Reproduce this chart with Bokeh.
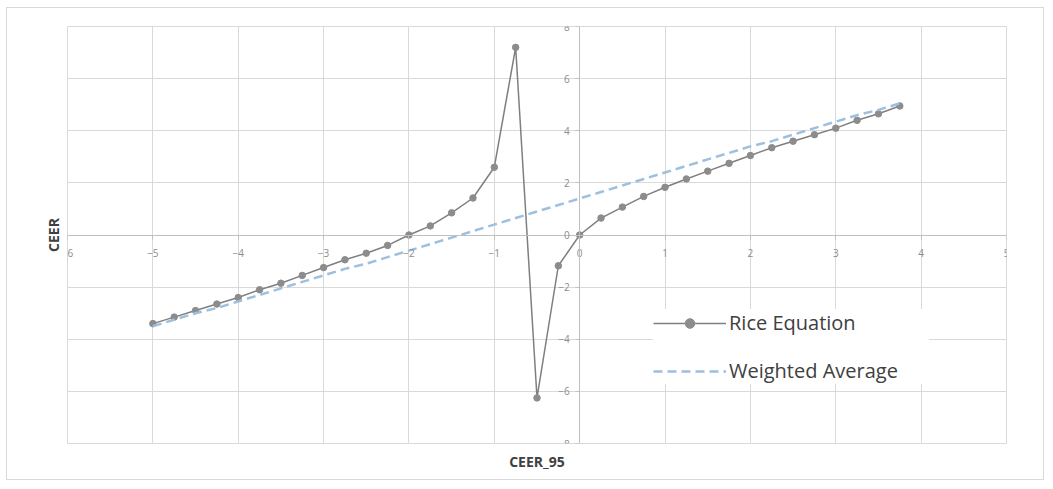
from bokeh.plotting import figure
from bokeh.models import (ColumnDataSource, LinearAxis, FixedTicker, Grid, Legend,
                          LegendItem, Title)
from bokeh.embed import file_html
from bokeh.resources import INLINE

# ---- data ----
ceer_95 = [-5.0, -4.75, -4.5, -4.25, -4.0, -3.75, -3.5, -3.25, -3.0, -2.75, -2.5, -2.25,
           -2.0, -1.75, -1.5, -1.25, -1.0, -0.75, -0.5, -0.25, 0.0, 0.25, 0.5, 0.75,
           1.0, 1.25, 1.5, 1.75, 2.0, 2.25, 2.5, 2.75, 3.0, 3.25, 3.5, 3.75]
rice_equation = [-3.4, -3.15, -2.9, -2.65, -2.4, -2.1, -1.85, -1.55, -1.25, -0.95, -0.7, -0.4,
                 0.0, 0.35, 0.85, 1.42, 2.6, 7.2, -6.25, -1.18, 0.0, 0.65, 1.07, 1.48,
                 1.83, 2.15, 2.45, 2.75, 3.05, 3.35, 3.6, 3.85, 4.1, 4.4, 4.65, 4.95]
weighted_average = [-3.5, -3.25, -3.0, -2.8, -2.55, -2.3, -2.05, -1.8, -1.55, -1.3, -1.1, -0.85,
                    -0.6, -0.35, -0.1, 0.15, 0.4, 0.65, 0.9, 1.15, 1.4, 1.65, 1.9, 2.15,
                    2.4, 2.65, 2.9, 3.15, 3.4, 3.6, 3.85, 4.1, 4.35, 4.6, 4.8, 5.05]
x_ticks = [-6, -5, -4, -3, -2, -1, 0, 1, 2, 3, 4, 5]
y_ticks = [-8, -6, -4, -2, 0, 2, 4, 6, 8]
series_names = ["Rice Equation", "Weighted Average"]
x_title = "CEER_95"
y_title = "CEER"

src = ColumnDataSource(dict(x=ceer_95, rice=rice_equation, wavg=weighted_average))

FONT = "Open Sans"
GRID = "#d9d9d9"

p = figure(width=1038, height=473, x_range=(-6, 5), y_range=(-8, 8),
           output_backend="svg", toolbar_location=None,
           x_axis_location=None, y_axis_location=None,
           min_border_left=60, min_border_right=39, min_border_top=18, min_border_bottom=38,
           outline_line_color=GRID)
p.styles = {"border": "1px solid #d9d9d9", "margin-left": "6px", "margin-top": "7px"}

xaxis = LinearAxis(fixed_location=0, ticker=FixedTicker(ticks=x_ticks))
yaxis = LinearAxis(fixed_location=0, ticker=FixedTicker(ticks=y_ticks))
for ax in (xaxis, yaxis):
    ax.axis_line_color = "#bfbfbf"
    ax.major_tick_line_color = "#bfbfbf"
    ax.major_tick_out = 4
    ax.major_tick_in = 0
    ax.minor_tick_line_color = None
    ax.major_label_text_font = FONT
    ax.major_label_text_font_size = "10px"
    ax.major_label_text_color = "#8c8c8c"
xaxis.major_label_standoff = 10
yaxis.major_label_standoff = 6
p.add_layout(xaxis, "below")
p.add_layout(yaxis, "left")

p.add_layout(Grid(dimension=0, ticker=xaxis.ticker, grid_line_color=GRID))
p.add_layout(Grid(dimension=1, ticker=yaxis.ticker, grid_line_color=GRID))

r_line = p.line("x", "rice", source=src, line_color="#7f7f7f", line_width=1.5)
r_pts = p.scatter("x", "rice", source=src, size=6.5, fill_color="#8c8c8c", line_color="#8c8c8c")
w_line = p.line("x", "wavg", source=src, line_color="#9dbfe0", line_width=2.5, line_dash="9 5")

legend = Legend(items=[LegendItem(label=series_names[0], renderers=[r_line, r_pts]),
                       LegendItem(label=series_names[1], renderers=[w_line])],
                location=(586, 59), glyph_width=73, glyph_height=24, spacing=21,
                padding=5, margin=0, label_standoff=3, label_width=200,
                border_line_color=None,
                background_fill_color="white", background_fill_alpha=1,
                label_text_font=FONT, label_text_font_size="20px",
                label_text_color="#404040")
p.add_layout(legend)

p.add_layout(Title(text=x_title, align="center", text_font=FONT, text_font_size="14px",
                   text_font_style="bold", text_color="#404040", standoff=12), "below")
p.add_layout(Title(text=y_title, align="center", text_font=FONT, text_font_size="14px",
                   text_font_style="bold", text_color="#404040"), "left")

open("out.html", "w").write(file_html(p, INLINE))
